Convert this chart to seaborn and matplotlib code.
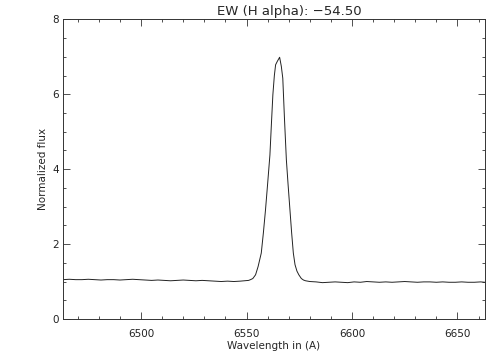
import numpy as np
import pandas as pd
import matplotlib
matplotlib.use('Agg')
import matplotlib.pyplot as plt
import seaborn as sns
from matplotlib.ticker import MultipleLocator

# Espectro normalizado alrededor de H alpha
wl_blue = [6463, 6466, 6469, 6472, 6475, 6478, 6481, 6484, 6487, 6490,
           6493, 6496, 6499, 6502, 6505, 6508, 6511, 6514, 6517, 6520,
           6523, 6526, 6529, 6532, 6535, 6538, 6541, 6544, 6547, 6549]
flux_blue = [1.05, 1.06, 1.05, 1.05, 1.06, 1.05, 1.04, 1.05, 1.05, 1.04,
             1.05, 1.06, 1.05, 1.04, 1.03, 1.04, 1.03, 1.02, 1.03, 1.04,
             1.03, 1.02, 1.03, 1.02, 1.01, 1.00, 1.01, 1.00, 1.01, 1.02]

wl_line = [6551.0, 6551.9, 6553.0, 6554.3, 6555.5, 6557.0, 6558.0, 6559.0,
           6560.0, 6561.1, 6561.8, 6562.5, 6563.2, 6563.8, 6564.6, 6565.2,
           6565.7, 6566.5, 6567.2, 6568.0, 6568.9, 6569.7, 6570.6, 6571.4,
           6572.2, 6573.0, 6573.9, 6574.8, 6576.0, 6577.0, 6578.0]
flux_line = [1.03, 1.05, 1.08, 1.18, 1.40, 1.76, 2.30, 2.91,
             3.60, 4.38, 5.20, 5.99, 6.50, 6.79, 6.88, 6.94,
             6.99, 6.75, 6.43, 5.35, 4.25, 3.60, 2.91, 2.30,
             1.76, 1.45, 1.28, 1.18, 1.08, 1.04, 1.02]

wl_red = [6580, 6583, 6586, 6589, 6592, 6595, 6598, 6601, 6604, 6607,
          6610, 6613, 6616, 6619, 6622, 6625, 6628, 6631, 6634, 6637,
          6640, 6643, 6646, 6649, 6652, 6655, 6658, 6661, 6663]
flux_red = [1.00, 0.99, 0.97, 0.98, 0.99, 0.98, 0.97, 0.99, 0.98, 1.00,
            0.99, 0.98, 0.99, 0.98, 0.99, 1.00, 0.99, 0.98, 0.99, 0.99,
            0.98, 0.99, 0.98, 0.98, 0.99, 0.98, 0.98, 0.99, 0.98]

df = pd.DataFrame({
    'wl': wl_blue + wl_line + wl_red,
    'flux': flux_blue + flux_line + flux_red,
})

sns.set_style('ticks')
plt.rcParams['font.family'] = ['DejaVu Sans']

fig = plt.figure(figsize=(5.04, 3.6), dpi=100)
ax = fig.add_axes([0.125, 0.114, 0.837, 0.832])

sns.lineplot(data=df, x='wl', y='flux', color='#222222', linewidth=0.7,
             sort=False, ax=ax)

ax.set_xlim(6463, 6663)
ax.set_ylim(0, 8)
ax.xaxis.set_major_locator(MultipleLocator(50))
ax.xaxis.set_minor_locator(MultipleLocator(10))
ax.yaxis.set_major_locator(MultipleLocator(2))
ax.yaxis.set_minor_locator(MultipleLocator(0.5))
ax.tick_params(which='both', direction='in', top=True, right=True,
               labelsize=7.5, width=0.6, color='#333333', labelcolor='#222222')
ax.tick_params(which='major', length=5)
ax.tick_params(which='minor', length=2.5)
ax.tick_params(axis='x', which='major', pad=7)
ax.tick_params(axis='y', which='major', pad=3)
for s in ax.spines.values():
    s.set_linewidth(0.7)
    s.set_color('#333333')

ax.set_xlabel('Wavelength in (A)', fontsize=7.5, labelpad=2)
ax.set_ylabel('Normalized flux', fontsize=7.5, labelpad=3)
fig.text(0.574, 0.958, 'EW (H alpha): \u221254.50', ha='center', va='baseline',
         fontsize=9.5)

fig.savefig('out.png', dpi=100)
